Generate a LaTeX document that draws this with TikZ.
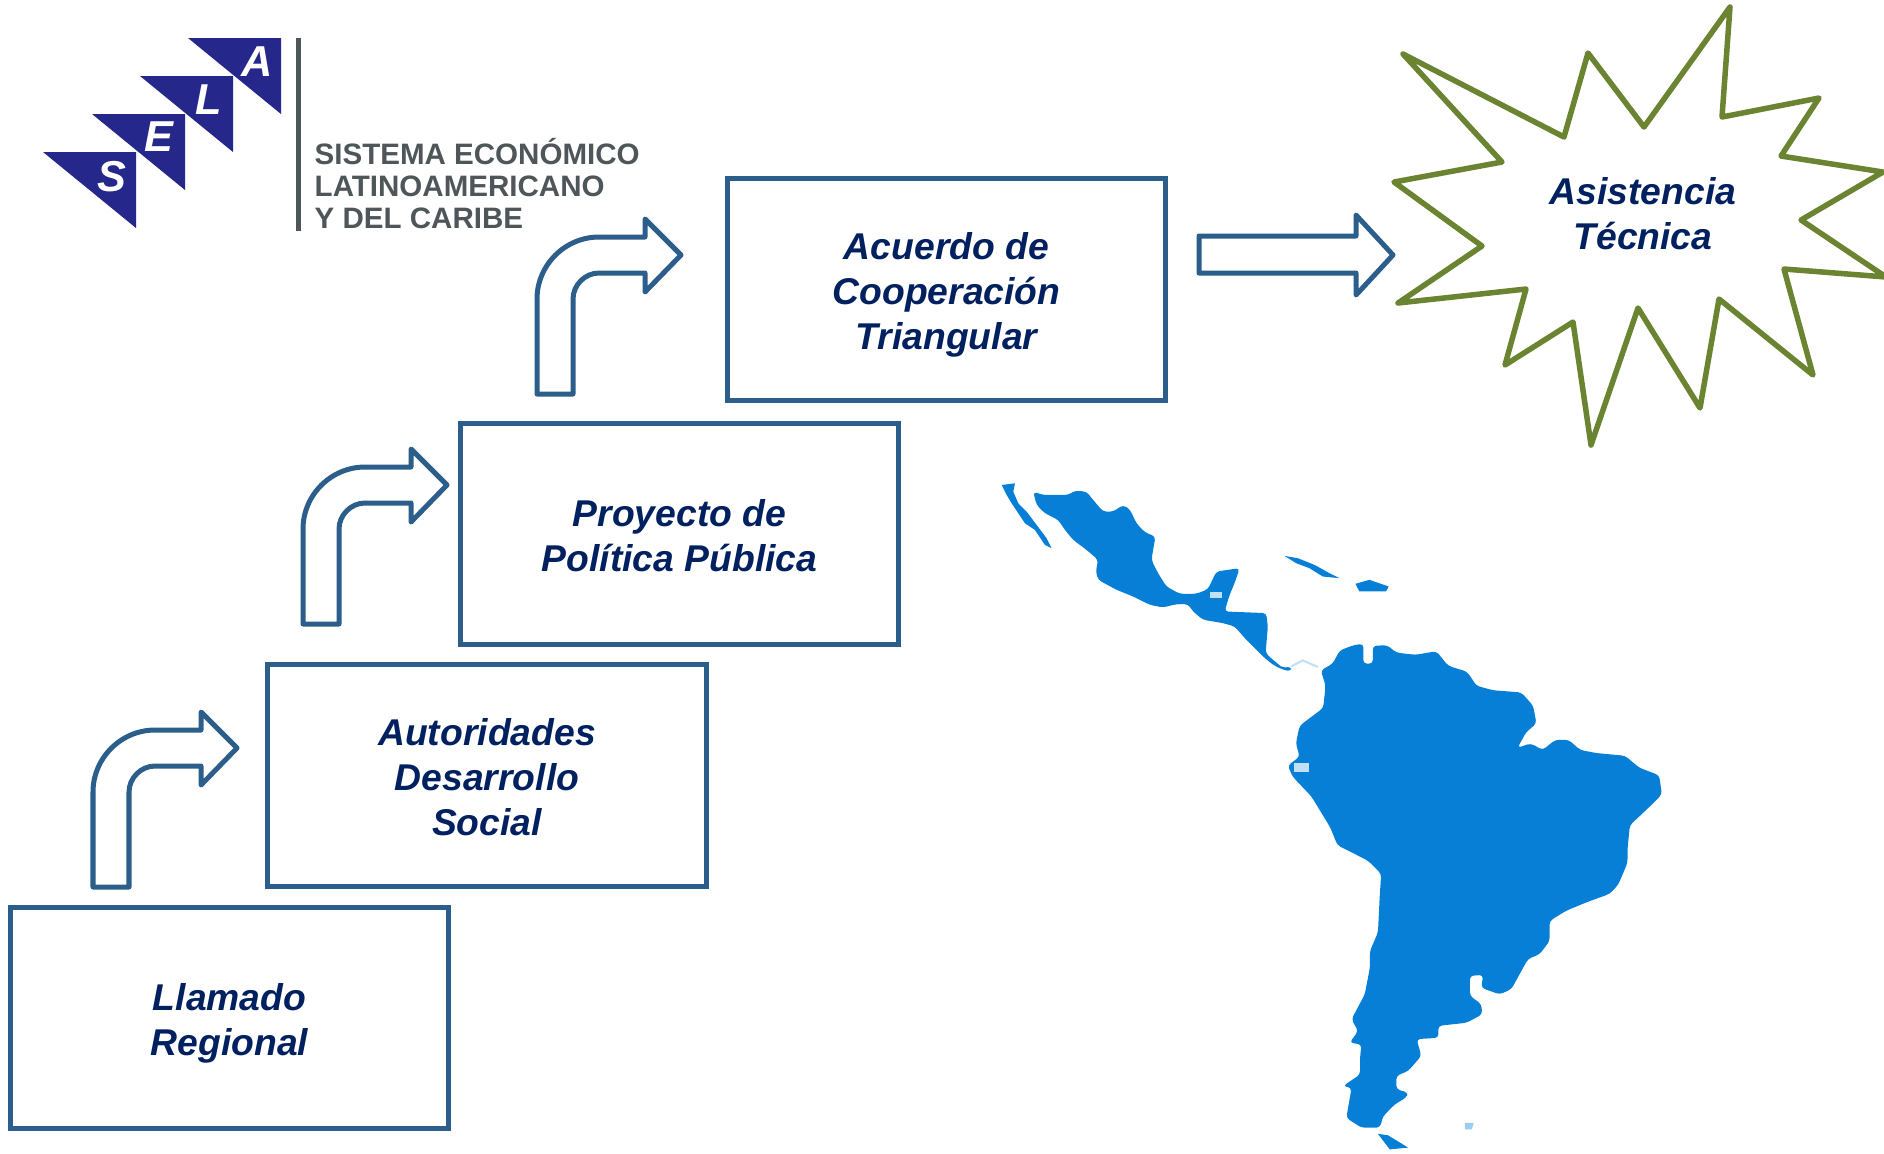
\documentclass[tikz,border=0pt]{standalone}
\usepackage{fontspec}
\setmainfont{Liberation Sans}
\definecolor{boxblue}{HTML}{2B5E8B}
\definecolor{textnavy}{HTML}{002060}
\definecolor{stargreen}{HTML}{6B8431}
\definecolor{logoblue}{HTML}{25278A}
\definecolor{logogray}{HTML}{4F565A}
\definecolor{mapblue}{HTML}{077FD6}
\tikzset{stepbox/.style={draw=boxblue, line width=0.05cm, minimum width=4.38cm, minimum height=2.21cm, align=center, text=textnavy, text height=#1, text depth=0pt, font=\fontsize{10.6}{12.8}\selectfont\bfseries\itshape},
%text height fixes where the lines sit in the box
stepbox/.default={0.75cm},
blockarrow/.style={draw=boxblue, line width=0.05cm, line join=round},
logoletter/.style={text=white, inner sep=0pt, font=\fontsize{12.3}{14}\selectfont\bfseries\itshape}}

\begin{document}
\begin{tikzpicture}[x=0.01cm,y=-0.01cm]
\useasboundingbox (0,0) rectangle (1884,1153);
% logo
\foreach \x/\y in {281/38,233/76,185/114,136/152}
     \fill [logoblue] (\x,\y) -- (\x-93,\y) -- (\x,\y+76) -- cycle;
\node [logoletter] (letterA) at (257,62) {A};
\node [logoletter] (letterL) at (209,100) {L};
\node [logoletter] (letterE) at (159,137) {E};
\node [logoletter] (letterS) at (112,177) {S};
\fill [logogray] (296,38) rectangle (301,231);
\node [anchor=base west, inner sep=0pt, align=left, text=logogray, font=\fontsize{8.4}{9.1}\selectfont\bfseries] (logotext) at (314,228) {SISTEMA ECONÓMICO\\LATINOAMERICANO\\Y DEL CARIBE};

% steps
\node [stepbox] (llamado) at (229.5,1018) {Llamado\\Regional};
\node [stepbox=1.19cm] (autoridades) at (487,775.5) {Autoridades\\Desarrollo\\Social};
\node [stepbox] (proyecto) at (679.5,534) {Proyecto de\\Política Pública};
\node [stepbox=1.19cm] (acuerdo) at (946.5,289.5) {Acuerdo de\\Cooperación\\Triangular};

% arrows
\foreach \x/\y in {93/887,303/624,537/394}
     \draw [blockarrow, shift={(\x,\y)}] (0,0) -- (0,-95) .. controls (0,-129) and (28,-157) .. (62,-157) -- (108,-157) -- (108,-175) -- (144,-139) -- (108,-102) -- (108,-121) -- (62,-121) .. controls (48,-121) and (36,-109) .. (36,-95) -- (36,0) -- cycle;
\draw [blockarrow] (1199,236) -- (1356,236) -- (1356,215) -- (1393,255) -- (1356,295) -- (1356,273) -- (1199,273) -- cycle;

% star
\draw [stargreen, line width=0.055cm, line join=round] (1730,7) -- (1722,117) -- (1819,98) -- (1781,156) -- (1883,172) -- (1801,220) -- (1886,277) -- (1784,269) -- (1813,375) -- (1719,299) -- (1700,408) -- (1638,308) -- (1591,445) -- (1573,322) -- (1505,365) -- (1526,289) -- (1398,303) -- (1482,246) -- (1394,182) -- (1502,162) -- (1403,54) -- (1564,137) -- (1588,53) -- (1644,127) -- cycle;
\node [align=center, text=textnavy, font=\fontsize{10.6}{12.8}\selectfont\bfseries\itshape] (asistencia) at (1643,214) {Asistencia\\Técnica};

% map, north
\begin{scope}[shift={(990,470)}, x=0.003333cm, y=-0.003333cm]
\fill [mapblue, rounded corners=1pt] (130,65) -- (160,75) -- (235,75) -- (255,62) -- (290,65) -- (310,90) -- (340,125) -- (370,125) -- (400,105) -- (420,118) -- (440,160) -- (465,187) -- (497,200) -- (492,230) -- (485,270) -- (505,310) -- (530,350) -- (570,372) -- (620,372) -- (655,358) -- (680,305) -- (750,295) -- (735,340) -- (720,375) -- (705,425) -- (830,430) -- (835,470) -- (828,550) -- (850,570) -- (880,595) -- (905,590) -- (905,605) -- (880,600) -- (850,585) -- (820,560) -- (795,535) -- (770,510) -- (735,470) -- (700,460) -- (640,450) -- (610,425) -- (595,403) -- (560,403) -- (520,413) -- (480,405) -- (430,380) -- (380,360) -- (325,330) -- (318,305) -- (325,270) -- (290,240) -- (250,210) -- (225,180) -- (205,150) -- (165,130) -- (140,105) -- cycle;
\fill [mapblue] (35,45) -- (75,40) -- (70,65) -- (85,100) -- (110,125) -- (140,165) -- (170,205) -- (185,235) -- (165,225) -- (135,180) -- (105,160) -- (85,130) -- (65,100) -- (50,75) -- cycle;
\fill [mapblue] (885,258) -- (925,265) -- (975,285) -- (1020,310) -- (1050,325) -- (1000,320) -- (960,295) -- (920,280) -- cycle;
\fill [mapblue] (1098,342) -- (1140,330) -- (1198,350) -- (1190,365) -- (1110,365) -- cycle;
\fill [mapblue!25] (660,367) rectangle (697,385);
\draw [mapblue!25, line width=0.02cm] (905,590) -- (940,572) -- (985,592);
\end{scope}

% map, south
\begin{scope}[shift={(960,460)}, x=0.004719cm, y=-0.004419cm]
\fill [mapblue, rounded corners=1pt] (765,475) -- (790,460) -- (805,430) -- (835,418) -- (855,415) -- (855,460) -- (875,460) -- (875,420) -- (905,418) -- (925,435) -- (965,440) -- (1010,432) -- (1035,465) -- (1075,478) -- (1095,510) -- (1130,520) -- (1190,525) -- (1215,555) -- (1222,595) -- (1200,615) -- (1182,650) -- (1210,640) -- (1235,655) -- (1262,632) -- (1290,632) -- (1315,655) -- (1350,662) -- (1410,668) -- (1440,695) -- (1482,712) -- (1488,755) -- (1460,785) -- (1420,825) -- (1415,880) -- (1415,910) -- (1395,960) -- (1377,980) -- (1328,999) -- (1285,1018) -- (1250,1041) -- (1250,1086) -- (1229,1116) -- (1204,1127) -- (1190,1154) -- (1169,1195) -- (1144,1207) -- (1105,1192) -- (1109,1163) -- (1081,1165) -- (1081,1210) -- (1105,1229) -- (1107,1252) -- (1074,1271) -- (1014,1278) -- (1014,1305) -- (968,1308) -- (978,1346) -- (950,1380) -- (925,1391) -- (925,1421) -- (950,1429) -- (946,1440) -- (922,1455) -- (897,1482) -- (890,1508) -- (851,1508) -- (819,1486) -- (830,1418) -- (812,1414) -- (848,1388) -- (848,1350) -- (851,1320) -- (826,1316) -- (844,1290) -- (830,1263) -- (858,1207) -- (869,1146) -- (869,1109) -- (886,1067) -- (890,980) -- (893,935) -- (865,905) -- (800,870) -- (785,830) -- (745,760) -- (705,715) -- (695,690) -- (720,670) -- (712,640) -- (720,600) -- (770,560) -- (775,510) -- cycle;
\fill [mapblue] (886,1522) -- (907,1525) -- (950,1553) -- (911,1557) -- cycle;
\fill [mapblue!40] (1070,1497) -- (1089,1497) -- (1085,1512) -- (1070,1512) -- cycle;
\fill [mapblue!25] (708,685) rectangle (740,705);
\end{scope}
\end{tikzpicture}
\end{document}
